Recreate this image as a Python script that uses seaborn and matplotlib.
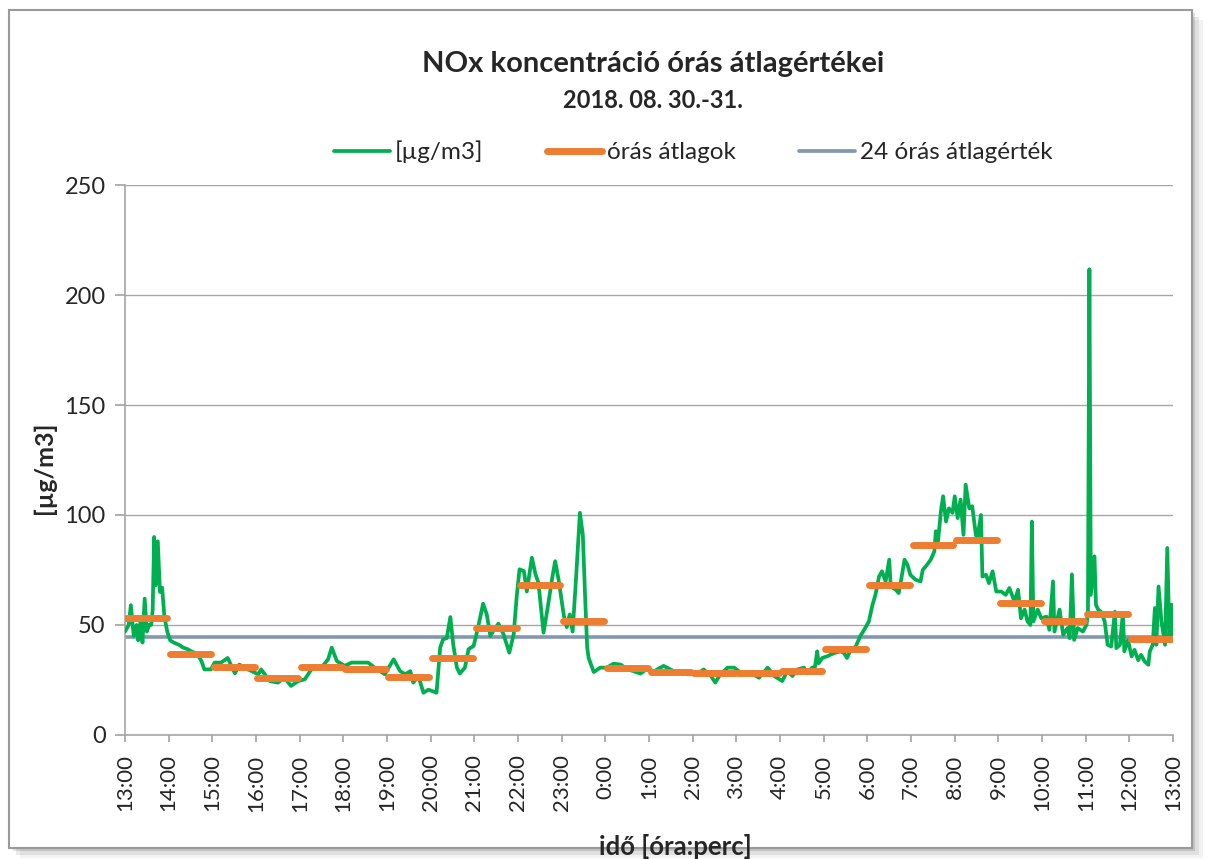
import pandas as pd
import matplotlib.pyplot as plt
import seaborn as sns
from matplotlib.lines import Line2D
from matplotlib.patches import Rectangle

# perc 13:00-tól számítva, és a mért NOx koncentráció [µg/m3]
perc = [0, 5, 8, 12, 16, 18, 21, 24, 27, 30, 33, 36, 38, 40, 42, 45, 48, 51, 54, 58,
        62, 67, 74, 80, 86, 91, 99, 105, 109, 118, 123, 132, 141, 151, 157, 169, 183, 187,
        199, 210, 219, 228, 238, 247, 256, 270, 279, 284, 291, 302, 311, 325, 334, 343,
        357, 369, 378, 385, 392, 396, 403, 410, 417, 428, 433, 437, 442, 447, 451, 456,
        460, 467, 472, 479, 485, 492, 497, 502, 506, 513, 520, 528, 534, 538, 542, 548,
        552, 559, 564, 568, 575, 580, 587, 591, 596, 603, 607, 611, 615, 620, 625, 629,
        632, 635, 637, 644, 653, 662, 671, 681, 690, 699, 708, 717, 727, 740, 754, 763,
        772, 786, 795, 805, 811, 818, 828, 837, 846, 860, 871, 883, 892, 903, 910, 917,
        924, 933, 937, 944, 948, 951, 953, 958, 965, 974, 983, 988, 992, 997, 1004, 1010,
        1017, 1022, 1027, 1031, 1036, 1040, 1045, 1050, 1052, 1059, 1063, 1066, 1071, 1075,
        1079, 1086, 1093, 1096, 1102, 1107, 1112, 1114, 1117, 1121, 1124, 1128, 1132, 1137,
        1140, 1144, 1148, 1152, 1155, 1160, 1164, 1169, 1171, 1176, 1178, 1183, 1187, 1192,
        1197, 1204, 1210, 1215, 1222, 1227, 1231, 1236, 1240, 1244, 1246, 1248, 1254, 1259,
        1266, 1270, 1275, 1277, 1284, 1289, 1295, 1298, 1301, 1304, 1309, 1316, 1321, 1323,
        1325, 1327, 1332, 1334, 1337, 1341, 1346, 1350, 1355, 1360, 1362, 1367, 1371, 1373,
        1378, 1383, 1387, 1392, 1396, 1401, 1406, 1408, 1412, 1415, 1417, 1420, 1424, 1429,
        1432, 1435, 1438, 1440]
nox = [47, 50, 59, 45, 50, 43, 51, 42, 62, 47, 50, 50, 57, 90, 68, 88, 65, 67, 54, 47,
       43, 42, 41, 39.7, 39, 38, 37, 33.6, 29.8, 29.8, 32.9, 32.9, 35, 28, 32, 29.8, 27.6, 29.8,
       24.5, 23.8, 26, 22.3, 24.5, 25.3, 29.8, 30.6, 34.4, 39.7, 33.6, 31.4, 32.9, 32.9, 32.9, 30.6,
       27.6, 34.4, 29, 27.6, 29, 23.8, 26.8, 19.2, 20.6, 19.2, 39.7, 43.5, 44, 53.6, 41, 30.6,
       27.9, 30.6, 39, 40.5, 48.8, 59.7, 54.8, 45, 47.3, 50.6, 45.8, 37.4, 45.8, 62.4, 75.3, 74.5,
       65.2, 80.6, 73, 69.2, 46.5, 56.4, 71.5, 79, 70, 54, 49, 54.8, 47, 73, 101, 91,
       64, 39.7, 35, 28.6, 30.6, 30.6, 32.4, 32, 29.8, 29, 27.9, 30, 29, 31.4, 29, 29,
       27.6, 27.6, 29.8, 26.8, 23.8, 27.6, 30.6, 30.6, 28.3, 28.3, 26, 30.6, 26.8, 24.5, 29, 26.8,
       29.8, 30.6, 28, 30.6, 31, 38, 32.6, 35, 35.8, 37.2, 38, 37.2, 35, 38.7, 40.2, 44.8,
       48.6, 51.6, 59.2, 63.7, 72, 74.4, 69.8, 79.7, 67.5, 66, 64.5, 69.8, 79.7, 77.4,
       72.8, 70.6, 69.8, 75, 77.4, 79.7, 83.5, 92.6, 88, 101.7, 108.5, 97, 103, 101,
       108.5, 98.6, 107, 91, 113.8, 103, 104, 91, 89.5, 100, 72, 72.8, 69, 74.4,
       65.2, 65.2, 63.7, 66.8, 60.7, 66, 53, 57, 51.6, 50, 97, 51.6, 57, 53,
       53.8, 47.8, 69.8, 47, 57, 45.5, 48.6, 44, 73, 43.2, 48.6, 47, 50, 55.4,
       211.7, 63.7, 81.2, 59.2, 57, 56, 51.6, 41, 40.2, 56, 39.5, 41, 55.4, 38,
       43.2, 35.7, 38.7, 34, 36.4, 33.4, 31.9, 38, 41, 57.7, 41, 67.5, 51.6, 41,
       85, 44.5, 59.2, 44]

# órás átlagok 13:00-tól 13:00-ig
ora_kezdet = list(range(24))
oras_atlag = [53.3, 36.7, 31.1, 25.8, 31.1, 30.2, 26.5, 35.2, 48.5, 68.0, 51.8, 30.3,
              28.8, 28.0, 28.0, 29.0, 39.0, 68.3, 86.2, 88.8, 60.2, 51.6, 54.9, 43.7]
napi_atlag = 44.5

ora_cimkek = [f"{(13 + i) % 24}:00" for i in range(25)]

sns.set_theme(style="white")
plt.rcParams["font.family"] = ["Lato", "DejaVu Sans"]

zold = "#00B050"
narancs = "#ED7D31"
kek = "#8497B0"

fig = plt.figure(figsize=(12.08, 8.59), dpi=100)
ax = fig.add_axes([0.1035, 0.1444, 0.8676, 0.6402])

# keret árnyékkal
for i, a in enumerate([0.05, 0.08, 0.12]):
    fig.patches.append(Rectangle((0.0075 + 0.003 * (3 - i), 0.0128 - 0.004 * (3 - i)), 0.979, 0.9755,
                                 transform=fig.transFigure, facecolor="#000000", alpha=a,
                                 edgecolor="none", zorder=-3))
fig.patches.append(Rectangle((0.0075, 0.0128), 0.979, 0.9755, transform=fig.transFigure,
                             facecolor="white", edgecolor="#9A9A9A", lw=1.5, zorder=-2))

df = pd.DataFrame({"perc": perc, "nox": nox})
sns.lineplot(data=df, x="perc", y="nox", color=zold, linewidth=2.7, ax=ax, zorder=3)

# órás átlagok vízszintes szakaszokként
rows = []
for h, v in zip(ora_kezdet, oras_atlag):
    rows.append({"perc": h * 60 + 2, "ertek": v, "ora": h})
    rows.append({"perc": h * 60 + 58, "ertek": v, "ora": h})
df_ora = pd.DataFrame(rows)
sns.lineplot(data=df_ora, x="perc", y="ertek", units="ora", estimator=None, color=narancs,
             linewidth=5, solid_capstyle="round", ax=ax, zorder=4)

df_napi = pd.DataFrame({"perc": [0, 1440], "ertek": [napi_atlag, napi_atlag]})
sns.lineplot(data=df_napi, x="perc", y="ertek", color=kek, linewidth=2.6, ax=ax, zorder=2)

ax.set_xlim(0, 1440)
ax.set_ylim(0, 250)
ax.set_xticks(range(0, 1441, 60))
ax.set_xticklabels(ora_cimkek, rotation=90, fontsize=16)
ax.set_yticks(range(0, 251, 50))
ax.tick_params(axis="y", labelsize=17, length=7, color="#A6A6A6", direction="out", left=True, pad=7)
ax.tick_params(axis="x", length=5, color="#A6A6A6", direction="out", bottom=True, pad=9)
ax.grid(axis="y", color="#A6A6A6", linewidth=1)
ax.grid(axis="x", visible=False)
for s in ["top", "right"]:
    ax.spines[s].set_visible(False)
for s in ["left", "bottom"]:
    ax.spines[s].set_color("#A6A6A6")
    ax.spines[s].set_linewidth(1.2)

ax.set_ylabel("[µg/m3]", fontsize=18, fontweight="bold")
ax.yaxis.set_label_coords(-0.066, 0.485)
ax.set_xlabel("idő [óra:perc]", fontsize=18.5, fontweight="bold")
ax.xaxis.set_label_coords(0.525, -0.18)

fig.text(0.5405, 0.925, "NOx koncentráció órás átlagértékei", ha="center", va="center",
         fontsize=21, fontweight="bold")
fig.text(0.5405, 0.883, "2018. 08. 30.-31.", ha="center", va="center",
         fontsize=17, fontweight="bold")

handles = [Line2D([], [], color=zold, lw=2.7),
           Line2D([], [], color=narancs, lw=5),
           Line2D([], [], color=kek, lw=2.7)]
fig.legend(handles, ["[µg/m3]", "órás átlagok", "24 órás átlagérték"], loc="center",
           bbox_to_anchor=(0.574, 0.823), ncol=3, frameon=False, fontsize=17.5,
           handlelength=2.3, handletextpad=0.2, columnspacing=2.6)

fig.savefig("out.png", dpi=100)
